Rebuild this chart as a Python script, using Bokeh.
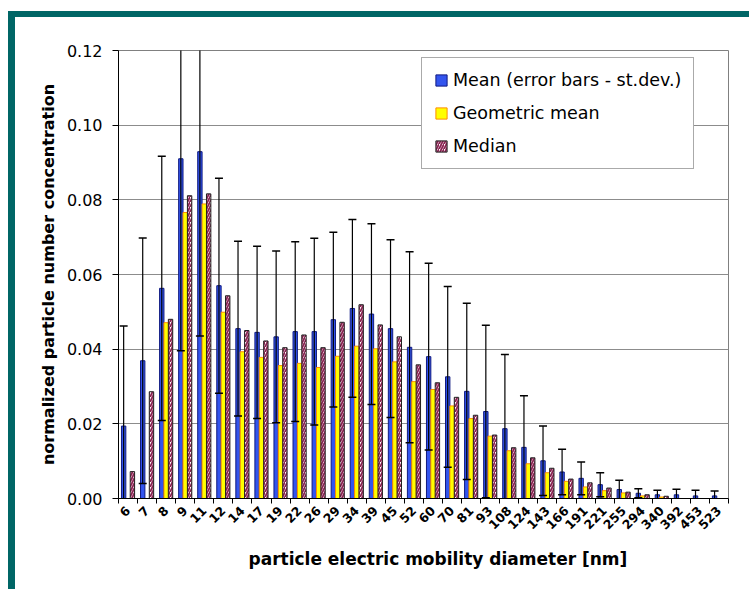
import math
import numpy as np
from bokeh.plotting import figure
from bokeh.models import (Range1d, FixedTicker, LinearAxis, NumeralTickFormatter,
                          ColumnDataSource, Legend, LegendItem, Div, Grid, Title)
from bokeh.layouts import column, row
from bokeh.embed import file_html
from bokeh.resources import INLINE

# ---------------- data ----------------
diameters = ["6", "7", "8", "9", "11", "12", "14", "17", "19", "22", "26", "29", "34",
             "39", "45", "52", "60", "70", "81", "93", "108", "124", "143", "166", "191",
             "221", "255", "294", "340", "392", "453", "523"]

mean = [0.0194, 0.0369, 0.0563, 0.0910, 0.0929, 0.0570, 0.0455, 0.0445, 0.0433, 0.0447,
        0.0447, 0.0479, 0.0509, 0.0494, 0.0455, 0.0405, 0.0380, 0.0326, 0.0287, 0.0233,
        0.0187, 0.0137, 0.0101, 0.0071, 0.0054, 0.0037, 0.0024, 0.0014, 0.0010, 0.0010,
        0.0007, 0.0007]

st_dev = [0.0268, 0.0329, 0.0354, 0.0514, 0.0494, 0.0288, 0.0234, 0.0231, 0.0230, 0.0241,
          0.0250, 0.0234, 0.0238, 0.0242, 0.0238, 0.0256, 0.0250, 0.0242, 0.0236, 0.0231,
          0.0199, 0.0138, 0.0093, 0.0061, 0.0044, 0.0032, 0.0025, 0.0012, 0.0012, 0.0015,
          0.0015, 0.0013]

geo_mean = [None, None, 0.0471, 0.0766, 0.0789, 0.0499, 0.0393, 0.0378, 0.0356, 0.0362,
            0.0351, 0.0381, 0.0408, 0.0401, 0.0366, 0.0313, 0.0292, 0.0248, 0.0214, 0.0167,
            0.0128, 0.0093, 0.0069, 0.0046, 0.0031, 0.0021, 0.0015, 0.0007, 0.0004, None,
            None, None]

median = [0.0072, 0.0286, 0.0480, 0.0811, 0.0816, 0.0543, 0.0450, 0.0422, 0.0404, 0.0438,
          0.0404, 0.0472, 0.0519, 0.0465, 0.0433, 0.0358, 0.0310, 0.0271, 0.0223, 0.0170,
          0.0136, 0.0109, 0.0081, 0.0052, 0.0042, 0.0028, 0.0017, 0.0010, 0.0006, None,
          None, None]

y_ticks = [0.00, 0.02, 0.04, 0.06, 0.08, 0.10, 0.12]

x_title = "particle electric mobility diameter [nm]"
y_title = "normalized particle number concentration"

# ---------------- derived ----------------
n = len(diameters)
idx = np.arange(n, dtype=float)
off = 0.23
bw = 0.23

def arr(v):
    return np.array([np.nan if x is None else x for x in v], dtype=float)

m = arr(mean)
s = arr(st_dev)
g = arr(geo_mean)
md = arr(median)

src = ColumnDataSource(dict(
    xm=idx - off, xg=idx, xd=idx + off,
    mean=m, geo=g, med=md,
    lo=m - s, hi=m + s,
))

FONT = "DejaVu Sans"

p = figure(width=723, height=563, output_backend="svg", toolbar_location=None,
           x_range=Range1d(-0.5, n - 0.5), y_range=Range1d(0, 0.12),
           min_border_left=103, min_border_right=10, min_border_top=33,
           min_border_bottom=82, x_axis_type=None, y_axis_type=None)
p.margin = 0
p.background_fill_color = "white"
p.border_fill_color = "white"
p.outline_line_color = "#808080"
p.outline_line_width = 1

# axes
xaxis = LinearAxis(
    ticker=FixedTicker(ticks=list(range(n)), minor_ticks=[i - 0.5 for i in range(n + 1)]),
    major_label_overrides={i: d for i, d in enumerate(diameters)},
)
xaxis.major_tick_line_color = None
xaxis.major_tick_out = 0
xaxis.major_tick_in = 0
xaxis.minor_tick_line_color = "black"
xaxis.minor_tick_out = 5
xaxis.minor_tick_in = 0
xaxis.major_label_orientation = math.pi / 4
xaxis.major_label_text_font = FONT
xaxis.major_label_text_font_style = "bold"
xaxis.major_label_text_font_size = "12.5px"
xaxis.major_label_text_color = "black"
xaxis.major_label_standoff = 5
xaxis.axis_line_color = "black"
p.add_layout(xaxis, "below")

xt = Title(text=x_title, align="left", offset=130, standoff=20,
           text_font=FONT, text_font_style="bold", text_font_size="17px",
           text_color="black")
p.add_layout(xt, "below")

yaxis = LinearAxis(
    ticker=FixedTicker(ticks=y_ticks),
    formatter=NumeralTickFormatter(format="0.00"),
    axis_label=y_title,
)
yaxis.major_tick_out = 6
yaxis.major_tick_in = 0
yaxis.minor_tick_line_color = None
yaxis.major_tick_line_color = "black"
yaxis.axis_line_color = "black"
yaxis.major_label_text_font = FONT
yaxis.major_label_text_font_size = "16px"
yaxis.major_label_text_color = "black"
yaxis.major_label_standoff = 10
yaxis.axis_label_text_font = FONT
yaxis.axis_label_text_font_style = "bold"
yaxis.axis_label_text_font_size = "16px"
yaxis.axis_label_text_color = "black"
yaxis.axis_label_standoff = 6
p.add_layout(yaxis, "left")

# grid
ygrid = Grid(dimension=1, ticker=yaxis.ticker, grid_line_color="#8c8c8c", grid_line_width=1)
p.add_layout(ygrid)

# bars
r_mean = p.vbar(x="xm", top="mean", bottom=0, width=bw, source=src,
                fill_color="#3355ee", line_color="#101a80", line_width=1)
r_geo = p.vbar(x="xg", top="geo", bottom=0, width=bw, source=src,
               fill_color="#ffff00", line_color="#ff8c00", line_width=1)
r_med = p.vbar(x="xd", top="med", bottom=0, width=bw, source=src,
               fill_color="white", line_color="#202020", line_width=1,
               hatch_pattern="right_diagonal_line", hatch_color="#8b2252",
               hatch_weight=1.8, hatch_scale=5)

# error bars (st. dev.)
p.segment(x0="xm", y0="lo", x1="xm", y1="hi", source=src, line_color="black", line_width=1.2)
p.scatter(x="xm", y="hi", source=src, marker="dash", size=8, line_color="black", line_width=1.5)
p.scatter(x="xm", y="lo", source=src, marker="dash", size=8, line_color="black", line_width=1.5)

legend = Legend(items=[
    LegendItem(label="Mean (error bars - st.dev.)", renderers=[r_mean]),
    LegendItem(label="Geometric mean", renderers=[r_geo]),
    LegendItem(label="Median", renderers=[r_med]),
], location=(303, 329))
legend.margin = 0
legend.padding = 12
legend.spacing = 13
legend.glyph_width = 14
legend.glyph_height = 14
legend.label_height = 20
legend.label_standoff = 5
legend.label_text_font = FONT
legend.label_text_font_size = "17.5px"
legend.label_text_color = "black"
legend.border_line_color = "#555555"
legend.border_line_width = 1
legend.background_fill_color = "white"
legend.background_fill_alpha = 1.0
p.add_layout(legend)

TEAL = "#006666"
left_gap = Div(text="", width=8, height=1, margin=0)
top_gap = Div(text="", width=10, height=11, margin=0)
top_bar = Div(text="", width=741, height=6, margin=0,
              styles={"background-color": TEAL})
left_bar = Div(text="", width=7, height=572, margin=0,
               styles={"background-color": TEAL})
inner = row(left_bar, p, spacing=0)
inner.margin = 0
col = column(top_gap, top_bar, inner, spacing=0)
col.margin = 0
layout = row(left_gap, col, spacing=0)
layout.margin = 0

open("out.html", "w").write(file_html(layout, INLINE))
